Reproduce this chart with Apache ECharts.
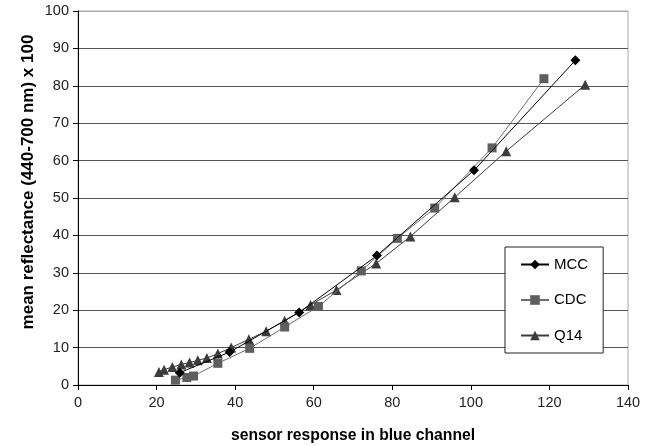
<!DOCTYPE html>
<html>
<head>
<meta charset="utf-8">
<script src="https://cdn.jsdelivr.net/npm/echarts@6/dist/echarts.min.js"></script>
<style>
html,body{margin:0;padding:0;background:#fff;}
#chart{width:664px;height:446px;}
</style>
</head>
<body>
<div id="chart"></div>
<script>
var seriesNames = ['MCC', 'CDC', 'Q14'];
var mccX = [25.9, 38.6, 56.3, 76.1, 100.8, 126.6];
var mccY = [3.3, 8.8, 19.4, 34.6, 57.4, 86.8];
var cdcX = [24.8, 27.7, 29.4, 35.6, 43.7, 52.6, 61.2, 72.1, 81.3, 90.8, 105.4, 118.6];
var cdcY = [1.3, 2.0, 2.4, 5.8, 9.8, 15.5, 21.0, 30.5, 39.2, 47.3, 63.4, 81.9];
var q14X = [20.6, 21.9, 24.0, 26.3, 28.4, 30.5, 32.8, 35.6, 39.0, 43.5, 47.9, 52.6, 59.2, 65.8, 75.9, 84.6, 95.9, 109.0, 129.1];
var q14Y = [3.5, 4.1, 4.8, 5.5, 6.0, 6.6, 7.2, 8.4, 10.0, 12.2, 14.4, 17.2, 21.4, 25.4, 32.5, 39.7, 50.2, 62.5, 80.3];
var xTitle = 'sensor response in blue channel';
var yTitle = 'mean reflectance (440-700 nm) x 100';

function pairs(xs, ys) { return xs.map(function (x, i) { return [x, ys[i]]; }); }

var gridColors = [];
for (var i = 0; i <= 10; i++) gridColors.push(i === 10 ? '#aaaaaa' : '#555555');

var chart = echarts.init(document.getElementById('chart'), null, {renderer: 'canvas'});
var font = '"Liberation Sans", Arial, sans-serif';
chart.setOption({
  animation: false,
  backgroundColor: '#ffffff',
  textStyle: {fontFamily: font},
  grid: {left: 78, right: 36, top: 11, bottom: 61, show: true, borderColor: '#aaaaaa', borderWidth: 1,
         containLabel: false, outerBoundsMode: 'none'},
  xAxis: {
    type: 'value', min: 0, max: 140, interval: 20,
    axisLine: {show: true, lineStyle: {color: '#000', width: 1}},
    axisTick: {show: true, length: 5, lineStyle: {color: '#000'}},
    axisLabel: {color: '#222', fontSize: 14.5, margin: 10, fontFamily: font},
    splitLine: {show: false},
    name: xTitle, nameLocation: 'middle', nameGap: 43,
    nameTextStyle: {color: '#000', fontSize: 15.7, fontWeight: 'bold', fontFamily: font}
  },
  yAxis: {
    type: 'value', min: 0, max: 100, interval: 10,
    axisLine: {show: true, onZero: false, lineStyle: {color: '#000', width: 1}},
    axisTick: {show: true, length: 5, lineStyle: {color: '#000'}},
    axisLabel: {color: '#222', fontSize: 14.5, margin: 9, fontFamily: font},
    splitLine: {show: true, lineStyle: {color: gridColors, width: 1}},
    name: ''
  },
  graphic: [{
    type: 'text', x: 28, y: 182, rotation: Math.PI / 2,
    style: {text: yTitle, fill: '#000', font: 'bold 17px ' + font, align: 'center', verticalAlign: 'middle'}
  }],
  legend: {
    orient: 'vertical', left: 505, top: 247,
    padding: [10, 15, 10, 15], itemGap: 20.5, itemWidth: 28, itemHeight: 12,
    backgroundColor: '#ffffff', borderColor: '#222', borderWidth: 1, borderRadius: 0,
    textStyle: {color: '#000', fontSize: 15, fontFamily: font},
    data: seriesNames
  },
  series: [
    {name: seriesNames[0], type: 'line', data: pairs(mccX, mccY), symbol: 'diamond', symbolSize: 10,
     color: '#000000', lineStyle: {color: '#000000', width: 1}, itemStyle: {color: '#000000'}, z: 4},
    {name: seriesNames[1], type: 'line', data: pairs(cdcX, cdcY), symbol: 'rect', symbolSize: 9,
     color: '#5e5e5e', lineStyle: {color: '#6e6e6e', width: 1}, itemStyle: {color: '#5e5e5e'}, z: 3},
    {name: seriesNames[2], type: 'line', data: pairs(q14X, q14Y), symbol: 'triangle', symbolSize: 10,
     color: '#3c3c3c', lineStyle: {color: '#3c3c3c', width: 1}, itemStyle: {color: '#3c3c3c'}, z: 2}
  ]
});
</script>
</body>
</html>
